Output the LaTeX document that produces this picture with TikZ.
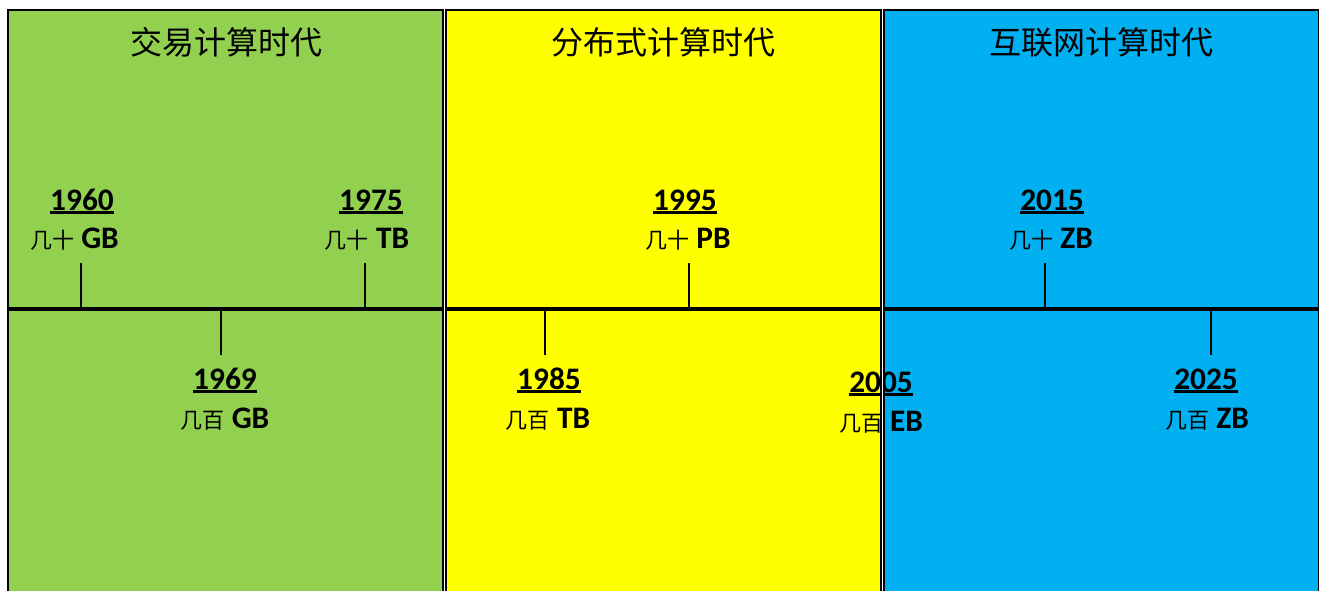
\documentclass[tikz,border=0pt]{standalone}
\usepackage{fontspec}
\setmainfont{Carlito}
\newfontfamily\cjk{Noto Sans CJK SC}
\definecolor{pgreen}{HTML}{92D050}
\definecolor{pyellow}{HTML}{FFFF00}
\definecolor{pblue}{HTML}{00B0F0}
\newcommand\yrul[1]{\setbox0\hbox{#1}\rlap{\rule[-2.6pt]{\wd0}{1.9pt}}\box0}
\newcommand\amt[2]{{\cjk\mdseries\fontsize{16.5}{20}\selectfont #1} #2}
\begin{document}
\begin{tikzpicture}[x=0.75pt,y=-0.75pt,
  title/.style={font=\cjk\fontsize{24}{28}\selectfont, inner sep=0pt, anchor=center},
  year/.style={font=\bfseries\fontsize{23.5}{27}\selectfont, inner sep=0pt, anchor=base},
  amount/.style={font=\bfseries\fontsize{23.5}{27}\selectfont, inner sep=0pt, anchor=base},
  tickline/.style={line width=1.5pt},
  timeline/.style={line width=2.7pt},
  panelborder/.style={draw=black, line width=1.5pt},
  gapstrip/.style={fill=white, draw=none},
]
\useasboundingbox (0,0) rectangle (1319,590);
\clip (0,0) rectangle (1319,590);

% panel fills
\fill[pgreen]  (7.5,10) rectangle (443,620);
\fill[pyellow] (446,10) rectangle (881,620);
\fill[pblue]   (884,10) rectangle (1318.5,620);

% timeline
\coordinate (tlL) at (8,309);
\coordinate (tlR) at (1319,309);
\draw[timeline] (tlL) -- (tlR);

% tick coordinates
\coordinate (t1960a) at (81,309);   \coordinate (t1960b) at (81,263);
\coordinate (t1975a) at (365,309);  \coordinate (t1975b) at (365,263);
\coordinate (t1969a) at (221,309);  \coordinate (t1969b) at (221,355);
\coordinate (t1985a) at (545,309);  \coordinate (t1985b) at (545,355);
\coordinate (t1995a) at (689,309);  \coordinate (t1995b) at (689,263);
\coordinate (t2015a) at (1045,309); \coordinate (t2015b) at (1045,263);
\coordinate (t2025a) at (1211,309); \coordinate (t2025b) at (1211,355);
\foreach \t in {1960,1975,1969,1985,1995,2015,2025}
  \draw[tickline] (t\t a) -- (t\t b);

% titles
\node[title] (ttl1) at (226,42) {交易计算时代};
\node[title] (ttl2) at (663,42) {分布式计算时代};
\node[title] (ttl3) at (1101,42) {互联网计算时代};

% years and amounts
\node[year] (y1960) at (82,210.5) {\yrul{1960}};
\node[amount] (a1960) at (74.5,248) {\amt{几十}{GB}};
\node[year] (y1975) at (371,210.5) {\yrul{1975}};
\node[amount] (a1975) at (367,248) {\amt{几十}{TB}};
\node[year] (y1969) at (225,389.5) {\yrul{1969}};
\node[amount] (a1969) at (225,428) {\amt{几百}{GB}};
\node[year] (y1985) at (549,389.5) {\yrul{1985}};
\node[amount] (a1985) at (548,428) {\amt{几百}{TB}};
\node[year] (y1995) at (685,210.5) {\yrul{1995}};
\node[amount] (a1995) at (688,248) {\amt{几十}{PB}};
\node[year] (y2005) at (881,392.5) {\yrul{2005}};
\node[amount] (a2005) at (881,431.5) {\amt{几百}{EB}};
\node[year] (y2015) at (1052,210.5) {\yrul{2015}};
\node[amount] (a2015) at (1051,248) {\amt{几十}{ZB}};
\node[year] (y2025) at (1206,389.5) {\yrul{2025}};
\node[amount] (a2025) at (1207,428) {\amt{几百}{ZB}};

% gaps and panel borders on top
\fill[gapstrip] (443,0) rectangle (446,620);
\fill[gapstrip] (881,0) rectangle (884,620);
\draw[panelborder] (7.5,620) -- (7.5,10) -- (443,10) -- (443,620);
\draw[panelborder] (446,620) -- (446,10) -- (881,10) -- (881,620);
\draw[panelborder] (884,620) -- (884,10) -- (1318.5,10) -- (1318.5,620);
\end{tikzpicture}
\end{document}
